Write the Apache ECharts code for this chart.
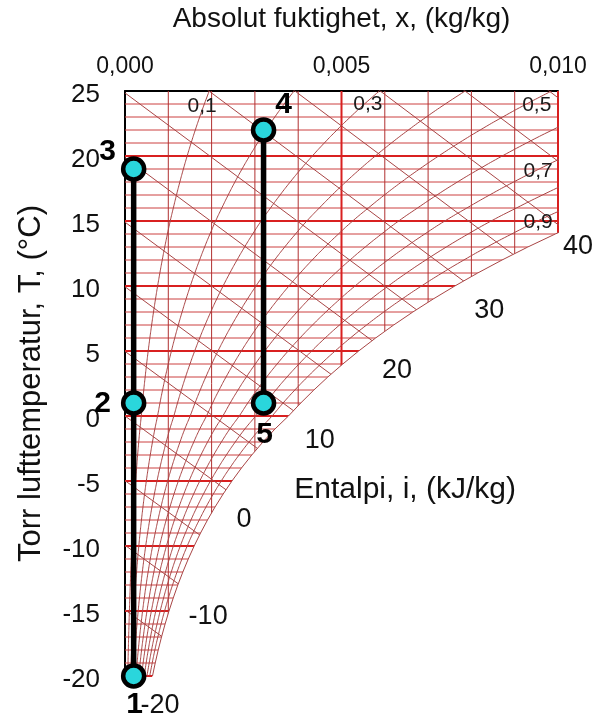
<!DOCTYPE html>
<html>
<head>
<meta charset="utf-8">
<script src="https://cdn.jsdelivr.net/npm/echarts@6/dist/echarts.min.js"></script>
<style>
  html, body { margin: 0; padding: 0; background: #fff; }
  #chart { width: 601px; height: 722px; }
</style>
</head>
<body>
<div id="chart"></div>
<script>
// Mollier-diagram: torr lufttemperatur mot absolut fuktighet

// mättnadsfukthalt (kg/kg) per grad, -20..25 °C
const satTemps = [-20, -19, -18, -17, -16, -15, -14, -13, -12, -11, -10, -9, -8, -7, -6, -5, -4, -3, -2, -1,
  0, 1, 2, 3, 4, 5, 6, 7, 8, 9, 10, 11, 12, 13, 14, 15, 16, 17, 18, 19, 20, 21, 22, 23, 24, 25]
const satHumidity = [0.000635, 0.000698, 0.000767, 0.000843, 0.000926, 0.001016, 0.001114, 0.001220, 0.001336, 0.001461,
  0.001597, 0.001745, 0.001905, 0.002079, 0.002267, 0.002470, 0.002690, 0.002928, 0.003185, 0.003463,
  0.003775, 0.004059, 0.004362, 0.004684, 0.005030, 0.005397, 0.005788, 0.006205, 0.006648, 0.007118,
  0.007617, 0.008146, 0.008708, 0.009303, 0.009937, 0.010605, 0.011340, 0.012098, 0.012902, 0.013755,
  0.014657, 0.015612, 0.016623, 0.017693, 0.018825, 0.020022]

// rutnät i x-led
const xGrid = [0.001, 0.002, 0.003, 0.004, 0.005, 0.006, 0.007, 0.008, 0.009, 0.010]

// relativ fuktighet och entalpi
const rhLevels = [0.1, 0.2, 0.3, 0.4, 0.5, 0.6, 0.7, 0.8, 0.9]
const rhLabels = ['0,1', '0,3', '0,5', '0,7', '0,9']
const enthalpyLevels = [-20, -15, -10, -5, 0, 5, 10, 15, 20, 25, 30, 35, 40, 45, 50]
const enthalpyLabels = ['-20', '-10', '0', '10', '20', '30', '40']

// tillståndspunkter
const pointNames = ['1', '2', '3', '4', '5']
const pointX = [0.0002, 0.0002, 0.0002, 0.0032, 0.0032]
const pointT = [-20, 1, 19, 22, 1]
const processPaths = [[0, 1, 2], [3, 4]]

// layout
const FONT = '"Liberation Sans", Arial, sans-serif'
const rhLabelPos = [[0.00178, 23.85], [0.00561, 24.0], [0.00951, 23.9], [0.00954, 18.8], [0.00954, 14.9]]
const enthalpyLabelPos = [[0.00081, -22.3], [0.00192, -15.4], [0.00275, -8.0], [0.0045, -1.9],
  [0.00628, 3.5], [0.00841, 8.15], [0.01046, 13.0]]
const enthalpyTitlePos = [0.00647, -5.7]
const pointLabelOffset = [[1, 29], [-31, 1], [-26, -17], [20, -25], [1, 32]]

const P = 101325
// fukthalt vid relativ fuktighet rh, utgående från mättnadsfukthalten
const xAtRh = (xs, rh) => {
  const pw = P * xs / (0.622 + xs)
  return 0.622 * rh * pw / (P - rh * pw)
}
// temperatur på en entalpilinje
const tOnEnthalpy = (i, x) => (i - 2501 * x) / (1.006 + 1.86 * x)

const thinCurve = { color: '#a84545', width: 1 }
const majorGrid = { color: '#d92020', width: 2 }
const minorGridH = { color: '#cc4040', width: 1 }
const minorGridV = { color: '#b03030', width: 1 }

const series = []
const plain = (z, lineStyle, data, smooth) => ({
  type: 'line', z: z, silent: true, showSymbol: false, smooth: !!smooth,
  lineStyle: lineStyle, data: data
})
const satLine = satTemps.map((t, k) => [satHumidity[k], t])

// rutnät
satTemps.filter(t => t < 25).forEach((t, k) => {
  const end = t === -20 ? satHumidity[k] : 0.011
  series.push(plain(1, t % 5 === 0 ? majorGrid : minorGridH, [[0, t], [end, t]]))
})
xGrid.forEach(x => {
  const major = Math.abs(x - 0.005) < 1e-9 || Math.abs(x - 0.01) < 1e-9
  series.push(plain(1, major ? majorGrid : minorGridV, [[x, -20], [x, 25]]))
})

rhLevels.forEach(rh => {
  series.push(plain(2, thinCurve, satTemps.map((t, k) => [xAtRh(satHumidity[k], rh), t]), true))
})

enthalpyLevels.forEach(i => {
  series.push(plain(2, thinCurve, [[0, tOnEnthalpy(i, 0)], [0.012, tOnEnthalpy(i, 0.012)]]))
})

// vitt område under mättnadskurvan
series.push({
  type: 'custom', z: 3, silent: true, clip: false,
  data: [[0, 0]],
  renderItem: (params, api) => {
    const pts = satLine.filter(p => p[1] <= 15).map(p => api.coord(p))
    const last = satLine.filter(p => p[1] <= 15).pop()
    pts.push(api.coord([last[0], -20.2]))
    pts.push(api.coord([satLine[0][0], -20.2]))
    return { type: 'polygon', shape: { points: pts }, style: { fill: '#ffffff' } }
  }
})

// mättnadskurvan
series.push(plain(4, thinCurve, satLine, false))

processPaths.forEach(path => {
  series.push(plain(8, { color: '#000', width: 5.5 }, path.map(k => [pointX[k], pointT[k]])))
})

series.push({
  type: 'scatter', z: 10, silent: true, clip: false,
  symbolSize: 21,
  itemStyle: { color: '#2ad6dc', borderColor: '#000', borderWidth: 4.5, opacity: 1 },
  data: pointNames.map((n, k) => ({
    value: [pointX[k], pointT[k]],
    label: {
      show: true, position: 'inside', offset: pointLabelOffset[k], formatter: n,
      fontSize: 30, fontWeight: 'bold', color: '#000', fontFamily: FONT
    }
  }))
})

const chart = echarts.init(document.getElementById('chart'), null, { renderer: 'canvas' })
chart.setOption({
  animation: false,
  backgroundColor: '#fff',
  grid: { left: 125, top: 91, width: 433, height: 585, containLabel: false },
  xAxis: {
    type: 'value', position: 'top', min: 0, max: 0.01, interval: 0.005,
    name: 'Absolut fuktighet, x, (kg/kg)', nameLocation: 'middle', nameGap: 58,
    nameTextStyle: { fontSize: 28, color: '#111', fontFamily: FONT },
    axisLine: { show: true, onZero: false, lineStyle: { color: '#000', width: 2 } },
    axisTick: { show: false },
    axisLabel: { fontSize: 23, color: '#111', margin: 13, fontFamily: FONT,
      formatter: v => v.toFixed(3).replace('.', ',') },
    splitLine: { show: false }
  },
  yAxis: {
    type: 'value', min: -20, max: 25, interval: 5,
    name: 'Torr lufttemperatur, T, (°C)', nameLocation: 'middle', nameRotate: 90, nameGap: 78,
    nameTextStyle: { fontSize: 31, color: '#111', fontFamily: FONT },
    axisLine: { show: true, onZero: false, lineStyle: { color: '#000', width: 2 } },
    axisTick: { show: false },
    axisLabel: {
      margin: 25, formatter: v => '{a|' + v + '}',
      rich: { a: { fontSize: 26, color: '#111', fontFamily: FONT, padding: [8, 0, 0, 0] } }
    },
    splitLine: { show: false }
  },
  series: series
})

// textetiketter placerade via diagrammets egna skalor
const textAt = (s, pos, size, color) => {
  const p = chart.convertToPixel({ gridIndex: 0 }, pos)
  return {
    type: 'text', x: p[0], y: p[1], z: 20, silent: true,
    style: { text: s, fill: color, font: size + 'px ' + FONT, align: 'center', verticalAlign: 'middle' }
  }
}
const graphics = []
rhLabels.forEach((s, k) => graphics.push(textAt(s, rhLabelPos[k], 21, '#1a1a1a')))
enthalpyLabels.forEach((s, k) => graphics.push(textAt(s, enthalpyLabelPos[k], 27, '#111')))
graphics.push(textAt('Entalpi, i, (kJ/kg)', enthalpyTitlePos, 30, '#111'))
chart.setOption({ graphic: graphics })
</script>
</body>
</html>
